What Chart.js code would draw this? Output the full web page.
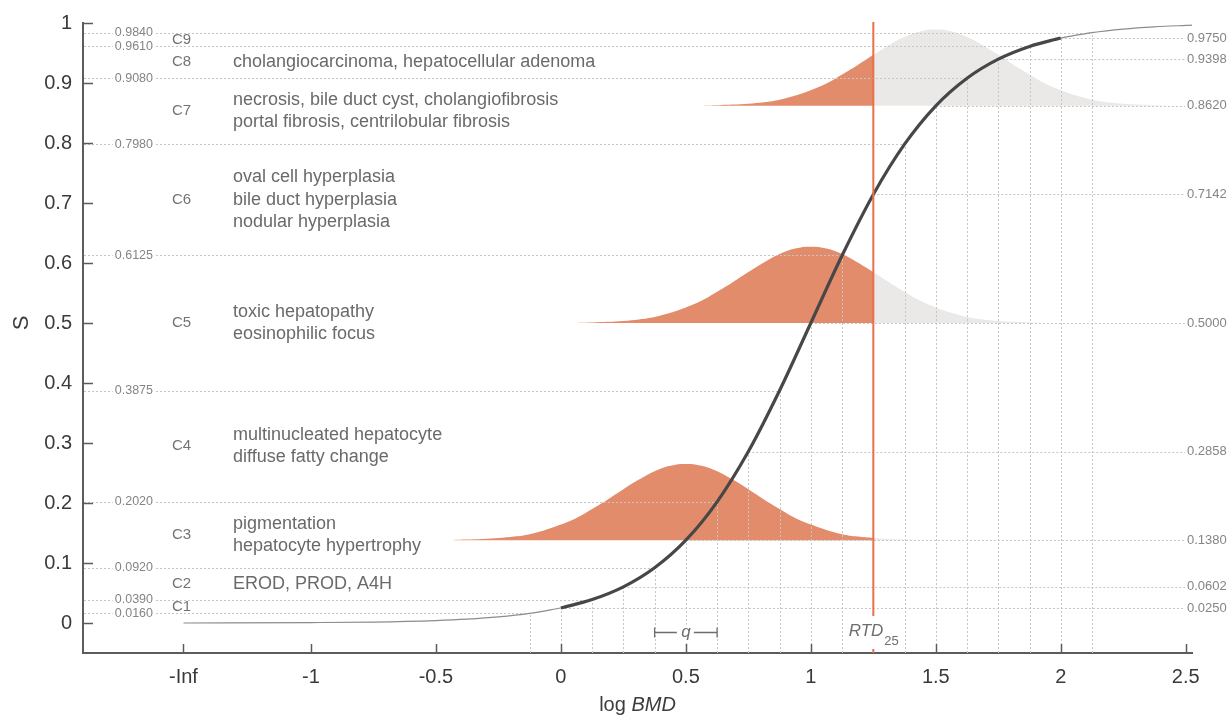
<!DOCTYPE html>
<html><head><meta charset="utf-8">
<script src="https://cdn.jsdelivr.net/npm/chart.js@4.4.1/dist/chart.umd.min.js"></script>
<style>html,body{margin:0;padding:0;background:#fff;}canvas{display:block;}</style>
</head><body>
<canvas id="c" width="1229" height="718"></canvas>
<script>
// ---------------- data ----------------
const xTickValues = [-1.51, -1, -0.5, 0, 0.5, 1, 1.5, 2, 2.5];
const xTickLabels = ['-Inf', '-1', '-0.5', '0', '0.5', '1', '1.5', '2', '2.5'];
const yTickValues = [0, 0.1, 0.2, 0.3, 0.4, 0.5, 0.6, 0.7, 0.8, 0.9, 1];
const yTickLabels = ['0', '0.1', '0.2', '0.3', '0.4', '0.5', '0.6', '0.7', '0.8', '0.9', '1'];

// dose-response curve S(log BMD)
const curveThinLeftX = [-1.51, -1.0, -0.75, -0.5, -0.375, -0.25, -0.125, 0];
const curveThinLeftS = [0.0, 0.0007, 0.0016, 0.0041, 0.0064, 0.0101, 0.0160, 0.0250];
const curveMainX = [0, 0.125, 0.25, 0.375, 0.5, 0.625, 0.75, 0.875, 1, 1.125, 1.25, 1.375, 1.5, 1.625, 1.75, 1.875, 2];
const curveMainS = [0.0250, 0.0390, 0.0602, 0.0920, 0.1380, 0.2020, 0.2858, 0.3875, 0.5000, 0.6125, 0.7142, 0.7980, 0.8620, 0.9080, 0.9398, 0.9610, 0.9750];
const curveThinRightX = [2, 2.125, 2.25, 2.375, 2.5, 2.525];
const curveThinRightS = [0.9750, 0.9840, 0.9899, 0.9936, 0.9959, 0.9963];

// class boundary levels (left labels) and curve-point levels (right labels)
const leftLevelX = [-0.125, 0.125, 0.375, 0.625, 0.875, 1.125, 1.375, 1.625, 1.875, 2.125];
const leftLevelS = [0.0160, 0.0390, 0.0920, 0.2020, 0.3875, 0.6125, 0.7980, 0.9080, 0.9610, 0.9840];
const leftLevelLabels = ['0.0160', '0.0390', '0.0920', '0.2020', '0.3875', '0.6125', '0.7980', '0.9080', '0.9610', '0.9840'];
const rightLevelX = [0, 0.25, 0.5, 0.75, 1, 1.25, 1.5, 1.75, 2];
const rightLevelS = [0.0250, 0.0602, 0.1380, 0.2858, 0.5000, 0.7142, 0.8620, 0.9398, 0.9750];
const rightLevelLabels = ['0.0250', '0.0602', '0.1380', '0.2858', '0.5000', '0.7142', '0.8620', '0.9398', '0.9750'];

// severity classes
const classNames = ['C1', 'C2', 'C3', 'C4', 'C5', 'C6', 'C7', 'C8', 'C9'];
const classCenterS = [0.0275, 0.0655, 0.1470, 0.2948, 0.5000, 0.7053, 0.8530, 0.9345, 0.9725];
const classLesions = [
  [],
  ['EROD, PROD, A4H'],
  ['pigmentation', 'hepatocyte hypertrophy'],
  ['multinucleated hepatocyte', 'diffuse fatty change'],
  ['toxic hepatopathy', 'eosinophilic focus'],
  ['oval cell hyperplasia', 'bile duct hyperplasia', 'nodular hyperplasia'],
  ['necrosis, bile duct cyst, cholangiofibrosis', 'portal fibrosis, centrilobular fibrosis'],
  ['cholangiocarcinoma, hepatocellular adenoma'],
  []
];

// distributions of log BMD (shared bell profile)
const distMean = [0.5, 1.0, 1.5];
const distBase = [0.1380, 0.5000, 0.8620];
const profileOffset = [-0.93, -0.875, -0.8125, -0.75, -0.6875, -0.625, -0.5625, -0.5, -0.4375, -0.375, -0.3125, -0.25, -0.1875, -0.125, -0.0625, 0,
  0.0625, 0.125, 0.1875, 0.25, 0.3125, 0.375, 0.4375, 0.5, 0.5625, 0.625, 0.6875, 0.75, 0.8125, 0.875, 0.93];
const profileHeight = [0.0005, 0.001, 0.002, 0.0035, 0.006, 0.010, 0.017, 0.026, 0.037, 0.052, 0.068, 0.085, 0.101, 0.115, 0.124, 0.127,
  0.124, 0.115, 0.101, 0.085, 0.068, 0.052, 0.037, 0.026, 0.017, 0.010, 0.006, 0.0035, 0.002, 0.001, 0.0005];

const rtdX = 1.25;
const qRange = [0.375, 0.625];

// ---------------- styles ----------------
const FAMILY = '"Liberation Sans", Arial, Helvetica, sans-serif';
const ORANGE = '#E28C6B';
const GRAYFILL = '#EBE9E7';
const RTDCOLOR = '#E8704A';
const GUIDE = '#c6c6c6';

const zip = (xs, ys) => xs.map((v, i) => ({x: v, y: ys[i]}));

const datasets = [];
distMean.forEach((m, k) => {
  const orange = [], gray = [];
  profileOffset.forEach((o, j) => {
    const px = m + o, py = distBase[k] + profileHeight[j];
    if (px <= rtdX + 1e-9) orange.push({x: px, y: py});
    if (px >= rtdX - 1e-9) gray.push({x: px, y: py});
  });
  const common = {borderColor: 'rgba(0,0,0,0)', borderWidth: 0, pointRadius: 0, tension: 0.4, fill: {value: distBase[k]}};
  if (gray.length > 1) datasets.push(Object.assign({data: gray, backgroundColor: GRAYFILL, order: 6}, common));
  if (orange.length > 1) datasets.push(Object.assign({data: orange, backgroundColor: ORANGE, order: 5}, common));
});
const curveCommon = {pointRadius: 0, fill: false, cubicInterpolationMode: 'monotone', isCurve: true};
datasets.push(Object.assign({data: zip(curveThinLeftX, curveThinLeftS), borderColor: '#8c8c8c', borderWidth: 1.2, order: 2}, curveCommon));
datasets.push(Object.assign({data: zip(curveThinRightX, curveThinRightS), borderColor: '#8c8c8c', borderWidth: 1.2, order: 2}, curveCommon));
datasets.push(Object.assign({data: zip(curveMainX, curveMainS), borderColor: '#474747', borderWidth: 3.2, order: 1}, curveCommon));

function txt(ctx, s, x, y, size, color, align, italic, baseline) {
  ctx.font = (italic ? 'italic ' : '') + size + 'px ' + FAMILY;
  ctx.fillStyle = color;
  ctx.textAlign = align || 'left';
  ctx.textBaseline = baseline || 'middle';
  ctx.fillText(s, x, y);
}
function boxedTxt(ctx, s, x, y, size, color, align) {
  ctx.font = size + 'px ' + FAMILY;
  const w = ctx.measureText(s).width;
  const left = align === 'right' ? x - w : x;
  ctx.fillStyle = '#fff';
  ctx.fillRect(left - 2, y - size * 0.5, w + 4, size);
  txt(ctx, s, x, y, size, color, align);
}

let guidesDrawn = false;
const annot = {
  id: 'annot',
  beforeDatasetsDraw() { guidesDrawn = false; },
  beforeDatasetDraw(chart, args) {
    if (guidesDrawn || !chart.data.datasets[args.index].isCurve) return;
    guidesDrawn = true;
    const {ctx, chartArea: a, scales: {x, y}} = chart;
    ctx.save();
    ctx.strokeStyle = GUIDE; ctx.lineWidth = 1; ctx.setLineDash([2, 2]);
    ctx.beginPath();
    const vx = leftLevelX.concat(rightLevelX), vs = leftLevelS.concat(rightLevelS);
    vx.forEach((v, i) => {
      const px = Math.round(x.getPixelForValue(v)) + 0.5;
      ctx.moveTo(px, a.bottom); ctx.lineTo(px, y.getPixelForValue(vs[i]));
    });
    leftLevelS.forEach((s, i) => {
      const py = Math.round(y.getPixelForValue(s)) + 0.5;
      ctx.moveTo(a.left + 1, py); ctx.lineTo(x.getPixelForValue(leftLevelX[i]), py);
    });
    rightLevelS.forEach((s, i) => {
      const py = Math.round(y.getPixelForValue(s)) + 0.5;
      ctx.moveTo(x.getPixelForValue(rightLevelX[i]), py); ctx.lineTo(a.right, py);
    });
    ctx.stroke();
    ctx.restore();
  },
  afterDatasetsDraw(chart) {
    const {ctx, chartArea: a, scales: {x, y}} = chart;
    ctx.save();
    // RTD line
    const rx = x.getPixelForValue(rtdX);
    ctx.strokeStyle = RTDCOLOR; ctx.lineWidth = 2;
    ctx.beginPath(); ctx.moveTo(rx, a.top - 1); ctx.lineTo(rx, a.bottom); ctx.stroke();
    // RTD label
    ctx.fillStyle = '#fff';
    ctx.fillRect(rx - 30, a.bottom - 37, 58, 33);
    txt(ctx, 'RTD', rx + 10, a.bottom - 17, 17, '#6e6e6e', 'right', true, 'alphabetic');
    txt(ctx, '25', rx + 11, a.bottom - 8, 13, '#6e6e6e', 'left', false, 'alphabetic');
    // q bracket
    const q0 = x.getPixelForValue(qRange[0]), q1 = x.getPixelForValue(qRange[1]);
    const qm = (q0 + q1) / 2, qy = a.bottom - 20.5;
    ctx.fillStyle = '#fff';
    ctx.fillRect(qm - 8, qy - 8, 16, 17);
    ctx.strokeStyle = '#6e6e6e'; ctx.lineWidth = 1.3;
    ctx.beginPath();
    ctx.moveTo(q0, qy); ctx.lineTo(qm - 9, qy);
    ctx.moveTo(qm + 8, qy); ctx.lineTo(q1, qy);
    ctx.moveTo(q0, qy - 5); ctx.lineTo(q0, qy + 5);
    ctx.moveTo(q1, qy - 5); ctx.lineTo(q1, qy + 5);
    ctx.stroke();
    txt(ctx, 'q', qm, qy + 4, 17, '#6e6e6e', 'center', true, 'alphabetic');
    // left / right level labels
    leftLevelS.forEach((s, i) => boxedTxt(ctx, leftLevelLabels[i], a.left + 70, y.getPixelForValue(s), 12.5, '#858585', 'right'));
    rightLevelS.forEach((s, i) => boxedTxt(ctx, rightLevelLabels[i], a.right - 5, y.getPixelForValue(s), 13, '#858585', 'left'));
    // class labels and lesions
    classNames.forEach((c, i) => {
      const cy = y.getPixelForValue(classCenterS[i]);
      txt(ctx, c, a.left + 89, cy, 15, '#737373', 'left');
      const lines = classLesions[i];
      const lh = 22.5;
      lines.forEach((l, j) => {
        txt(ctx, l, a.left + 150, cy + (j - (lines.length - 1) / 2) * lh, 18, '#6a6a6a', 'left');
      });
    });
    ctx.restore();
  },
  afterDraw(chart) {
    const {ctx, chartArea: a, scales: {x, y}} = chart;
    ctx.save();
    ctx.strokeStyle = '#5c5c5c'; ctx.lineWidth = 1.5;
    ctx.beginPath();
    yTickValues.forEach(v => {
      const py = Math.round(y.getPixelForValue(v)) + 0.5;
      ctx.moveTo(a.left, py); ctx.lineTo(a.left + 10, py);
    });
    xTickValues.forEach(v => {
      const px = Math.round(x.getPixelForValue(v)) + 0.5;
      ctx.moveTo(px, a.bottom); ctx.lineTo(px, a.bottom - 9);
    });
    ctx.stroke();
    // axis titles
    ctx.save();
    ctx.translate(22, y.getPixelForValue(0.5));
    ctx.rotate(-Math.PI / 2);
    txt(ctx, 'S', 0, 0, 22, '#3c3c3c', 'center');
    ctx.restore();
    ctx.font = '20px ' + FAMILY;
    const w1 = ctx.measureText('log ').width;
    ctx.font = 'italic 20px ' + FAMILY;
    const w2 = ctx.measureText('BMD').width;
    const cx = (a.left + a.right) / 2, start = cx - (w1 + w2) / 2;
    txt(ctx, 'log ', start, 711, 20, '#3c3c3c', 'left', false, 'alphabetic');
    txt(ctx, 'BMD', start + w1, 711, 20, '#3c3c3c', 'left', true, 'alphabetic');
    ctx.restore();
  }
};

new Chart(document.getElementById('c'), {
  type: 'line',
  data: {datasets},
  plugins: [annot],
  options: {
    responsive: false,
    devicePixelRatio: 1,
    animation: false,
    events: [],
    layout: {padding: {top: 22, right: 37, left: 0, bottom: 0}},
    plugins: {legend: {display: false}, tooltip: {enabled: false}},
    scales: {
      x: {
        type: 'linear', min: -1.912, max: 2.525,
        afterBuildTicks: s => { s.ticks = xTickValues.map(v => ({value: v})); },
        afterFit: s => { s.height = 65; },
        ticks: {callback: (v, i) => xTickLabels[i], font: {family: FAMILY, size: 20}, color: '#3a3a3a', padding: 12, maxRotation: 0, autoSkip: false},
        grid: {display: true, drawOnChartArea: false, drawTicks: false},
        border: {display: true, color: '#5c5c5c', width: 2}
      },
      y: {
        type: 'linear', min: -0.05, max: 1.0,
        afterBuildTicks: s => { s.ticks = yTickValues.map(v => ({value: v})); },
        afterFit: s => { s.width = 83; },
        ticks: {callback: (v, i) => yTickLabels[i], font: {family: FAMILY, size: 20}, color: '#3a3a3a', padding: 11, autoSkip: false},
        grid: {display: true, drawOnChartArea: false, drawTicks: false},
        border: {display: true, color: '#5c5c5c', width: 2}
      }
    }
  }
});
</script>
</body></html>
